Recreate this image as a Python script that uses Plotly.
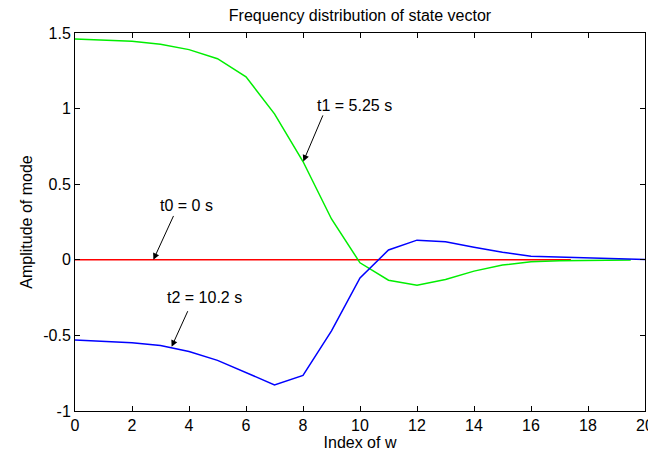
import plotly.graph_objects as go

# Data
x_t0 = [0, 17.4]
amp_t0 = [0.0, 0.0]

x_t1 = [0, 1, 2, 3, 4, 5, 6, 7, 8, 9, 10, 11, 12, 13, 14, 15, 16, 17, 18, 19, 19.5]
amp_t1 = [1.46, 1.453, 1.445, 1.425, 1.39, 1.33, 1.21, 0.965, 0.65, 0.27, -0.02,
          -0.135, -0.168, -0.13, -0.075, -0.035, -0.013, -0.006, -0.004, -0.003, -0.002]

x_t2 = list(range(21))
amp_t2 = [-0.53, -0.537, -0.548, -0.567, -0.607, -0.665, -0.745, -0.827, -0.765, -0.47,
          -0.12, 0.065, 0.13, 0.12, 0.083, 0.05, 0.023, 0.018, 0.015, 0.011, 0.002]

x_ticks = [0, 2, 4, 6, 8, 10, 12, 14, 16, 18, 20]
y_ticks = [-1, -0.5, 0, 0.5, 1, 1.5]
y_tick_labels = ["-1", "-0.5", "0", "0.5", "1", "1.5"]

FONT = "Liberation Sans, Arial, sans-serif"
FS = 16

fig = go.Figure()
fig.add_trace(go.Scatter(x=x_t0, y=amp_t0, mode="lines",
                         line=dict(color="#ff0000", width=1.5), showlegend=False))
fig.add_trace(go.Scatter(x=x_t1, y=amp_t1, mode="lines",
                         line=dict(color="#00ee00", width=1.5), showlegend=False))
fig.add_trace(go.Scatter(x=x_t2, y=amp_t2, mode="lines",
                         line=dict(color="#0000ff", width=1.5), showlegend=False))

# arrows (head, tail) and labels
arrows = [
    dict(hx=8.01, hy=0.65, tx=8.72, ty=0.965, text="t1 = 5.25 s", lx=9.82, ly=1.02),
    dict(hx=2.75, hy=0.0, tx=3.48, ty=0.30, text="t0 = 0 s", lx=3.92, ly=0.362),
    dict(hx=3.39, hy=-0.575, tx=3.98, ty=-0.33, text="t2 = 10.2 s", lx=4.55, ly=-0.25),
]
for a in arrows:
    fig.add_annotation(x=a["hx"], y=a["hy"], ax=a["tx"], ay=a["ty"],
                       xref="x", yref="y", axref="x", ayref="y",
                       text="", showarrow=True, arrowhead=2, arrowsize=1.3,
                       arrowwidth=1, arrowcolor="black")
    fig.add_annotation(x=a["lx"], y=a["ly"], xref="x", yref="y", text=a["text"],
                       showarrow=False, font=dict(family=FONT, size=FS, color="black"))

fig.update_layout(
    width=648, height=454,
    margin=dict(l=75, r=3, t=33, b=43),
    paper_bgcolor="white", plot_bgcolor="white",
    hovermode=False,
    title=dict(text="Frequency distribution of state vector", x=0.5, xanchor="center",
               xref="paper", yref="container", y=1 - 15 / 454, yanchor="middle",
               font=dict(family=FONT, size=FS, color="black")),
    font=dict(family=FONT, size=FS, color="black"),
)
fig.update_xaxes(range=[0, 20], tickvals=x_ticks, ticks="inside", ticklen=5,
                 tickcolor="black", showline=True, linecolor="black", linewidth=1,
                 mirror="ticks", showgrid=False, zeroline=False, automargin=False,
                 ticklabeloverflow="allow",
                 title=dict(text="Index of w", font=dict(family=FONT, size=FS), standoff=3),
                 tickfont=dict(family=FONT, size=FS))
fig.update_yaxes(range=[-1, 1.5], tickvals=y_ticks, ticktext=y_tick_labels,
                 ticks="inside", ticklen=5, tickcolor="black", showline=True,
                 linecolor="black", linewidth=1, mirror="ticks", showgrid=False,
                 zeroline=False, automargin=False,
                 title=dict(text="Amplitude of mode", font=dict(family=FONT, size=FS), standoff=6),
                 tickfont=dict(family=FONT, size=FS))

# remove the default 8px page margin so the figure fills the window exactly
fig.write_html("out.html",
               config=dict(displayModeBar=False, staticPlot=True),
               post_script="document.body.style.margin='0';document.body.style.overflow='hidden';")
